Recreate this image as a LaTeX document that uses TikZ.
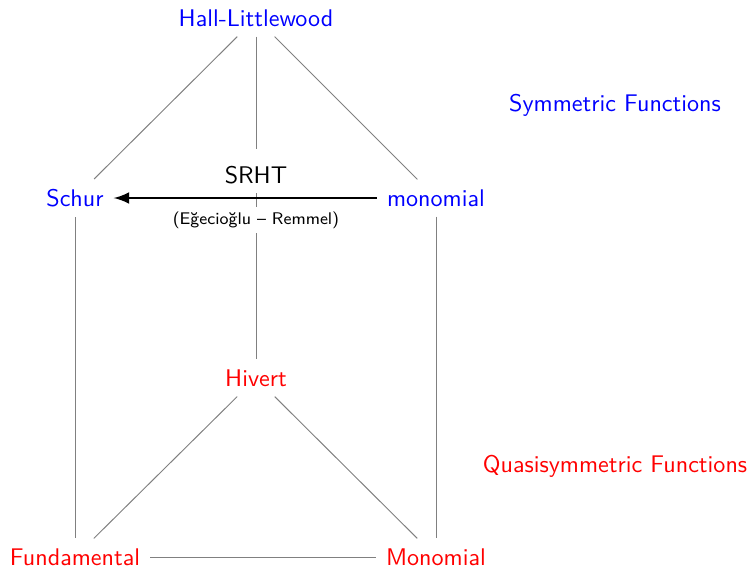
\documentclass[tikz,border=0pt]{standalone}
\usepackage{fontspec}
\usetikzlibrary{arrows}

\begin{document}
\begin{tikzpicture}[x=0.415pt,y=-0.415pt,font=\sffamily,
  sym/.style={text=blue,inner sep=4pt},
  quasi/.style={text=red,inner sep=4pt},
  link/.style={gray,thin}]
\useasboundingbox (0,0) rectangle (754,568);
%%Nodes
\node[sym] (hl) at (256,18) {Hall-Littlewood};
\node[sym] (schur) at (75,198) {Schur};
\node[sym] (mon) at (436,198) {monomial};
\node[quasi] (hivert) at (256,378) {Hivert};
\node[quasi] (fund) at (75,557) {Fundamental};
\node[quasi] (qmon) at (436,557) {Monomial};
\node[text=blue] (symf) at (615,105) {Symmetric Functions};
\node[text=red] (quasif) at (615,466) {Quasisymmetric Functions};

%%Lines
\draw[link] (hl) -- (schur);
\draw[link] (hl) -- (mon);
\draw[link] (hl) -- (hivert);
\draw[link] (schur) -- (fund);
\draw[link] (mon) -- (qmon);
\draw[link] (hivert) -- (fund);
\draw[link] (hivert) -- (qmon);
\draw[link] (fund) -- (qmon);

%%Map
\node[fill=white,inner xsep=2pt,inner ysep=4pt,text height=10pt,text depth=0pt,anchor=base] (srht) at (256,183) {SRHT};
\node[fill=white,inner sep=2pt,font=\sffamily\scriptsize] (er) at (256,220) {(Eğecioğlu -- Remmel)};
\draw[-latex,very thick] (mon) -- (schur);
\end{tikzpicture}
\end{document}
